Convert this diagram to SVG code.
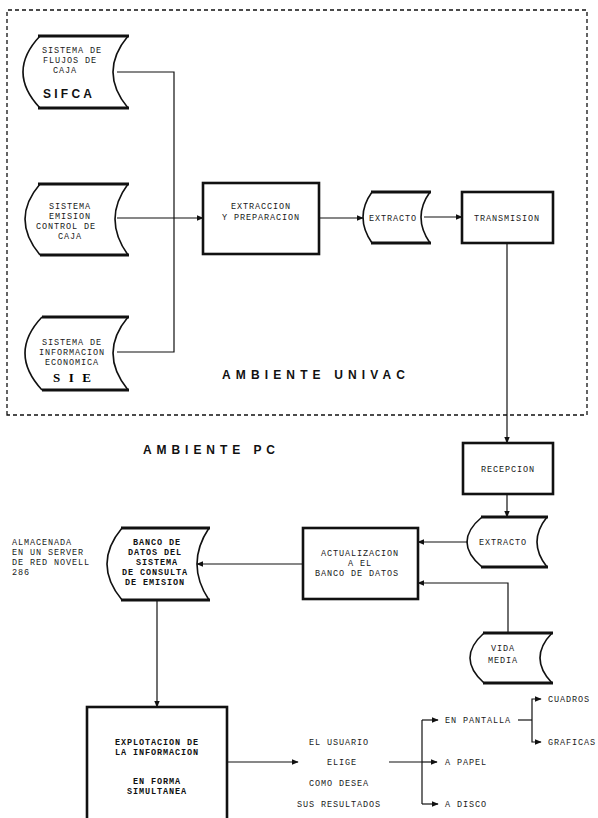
<svg xmlns="http://www.w3.org/2000/svg" width="598" height="818" viewBox="0 0 598 818">
<defs>
<marker id="ah" viewBox="0 0 10 10" refX="9" refY="5" markerWidth="7" markerHeight="7" markerUnits="userSpaceOnUse" orient="auto">
<path d="M0,1 L10,5 L0,9 z" fill="#111"/>
</marker>
<style>
.t{font-family:"Liberation Mono","DejaVu Sans Mono",monospace;font-size:8.5px;letter-spacing:0.9px;fill:#1a1a1a;text-anchor:middle}
.tl{font-family:"Liberation Mono","DejaVu Sans Mono",monospace;font-size:8.5px;letter-spacing:0.9px;fill:#1a1a1a}
.tb{font-family:"Liberation Mono","DejaVu Sans Mono",monospace;font-size:8.5px;letter-spacing:0.9px;fill:#111;font-weight:bold;text-anchor:middle}
.big{font-family:"Liberation Sans","DejaVu Sans",sans-serif;font-size:12px;font-weight:bold;fill:#111}
.curve{fill:none;stroke:#111;stroke-width:1.6}
.edge{stroke:#111;stroke-width:3.2}
.box{fill:#fff;stroke:#111;stroke-width:2.6}
.c{fill:none;stroke:#111;stroke-width:1.2}
.ca{fill:none;stroke:#111;stroke-width:1.2;marker-end:url(#ah)}
.dash{fill:none;stroke:#111;stroke-width:1.3;stroke-dasharray:4 3}
</style>
</defs>
<rect width="598" height="818" fill="#fff"/>

<g id="ambiente-univac">
<path class="dash" d="M7,415 V10 H587 V415 Z"/>
<text class="big" x="222" y="379" textLength="183" lengthAdjust="spacing">AMBIENTE UNIVAC</text>
</g>
<g id="ambiente-pc">
<text class="big" x="143" y="454" textLength="132" lengthAdjust="spacing">AMBIENTE PC</text>
</g>

<g id="connectors">
<path class="c" d="M117,72 H174 V352 H117"/>
<path class="ca" d="M117,218 H203"/>
<path class="ca" d="M319,218 H363"/>
<path class="ca" d="M424,217 H462"/>
<path class="ca" d="M507,243 V443"/>
<path class="ca" d="M507,494 V517"/>
<path class="ca" d="M468,542 H418"/>
<path class="ca" d="M508,633 V583 H418"/>
<path class="ca" d="M303,564 H197"/>
<path class="ca" d="M157,600 V707"/>
<path class="ca" d="M227,762 H298"/>
<path class="c" d="M389,762 H422"/>
<path class="ca" d="M422,762 H437"/>
<path class="c" d="M422,720 V804"/>
<path class="ca" d="M422,720 H438"/>
<path class="ca" d="M422,804 H438"/>
<path class="c" d="M518,720 H532"/>
<path class="ca" d="M532,720 V699 H541"/>
<path class="ca" d="M532,720 V742 H541"/>
</g>

<g id="sifca">
<path class="curve" d="M40,36 Q6,72 40,108 M128,36 Q98,72 128,108"/>
<path class="edge" d="M38,36 H129 M38,108 H129"/>
<text class="t" x="72" y="53">SISTEMA DE</text>
<text class="t" x="70" y="63">FLUJOS DE</text>
<text class="t" x="65" y="73">CAJA</text>
<text class="big" x="43" y="98" textLength="49" lengthAdjust="spacing">SIFCA</text>
</g>

<g id="emision">
<path class="curve" d="M40,184 Q10,219 40,255 M128,184 Q102,219 128,255"/>
<path class="edge" d="M38,184 H129 M40,255 H129"/>
<text class="t" x="70" y="209">SISTEMA</text>
<text class="t" x="70" y="219">EMISION</text>
<text class="t" x="66" y="229">CONTROL DE</text>
<text class="t" x="70" y="239">CAJA</text>
</g>

<g id="sie">
<path class="curve" d="M42,317 Q8,353 42,390 M128,317 Q98,353 128,390"/>
<path class="edge" d="M42,317 H129 M42,390 H129"/>
<text class="t" x="72" y="345">SISTEMA DE</text>
<text class="t" x="72" y="355">INFORMACION</text>
<text class="t" x="72" y="365">ECONOMICA</text>
<text x="53" y="382" style="font-family:'Liberation Serif','DejaVu Serif',serif;font-size:13px;font-weight:bold" textLength="38" lengthAdjust="spacing">SIE</text>
</g>

<g id="extraccion">
<rect class="box" x="203" y="183" width="116" height="71"/>
<text class="t" x="261" y="209">EXTRACCION</text>
<text class="t" x="261" y="220">Y PREPARACION</text>
</g>

<g id="extracto1">
<path class="curve" d="M372,192 Q354,217 372,243 M430,192 Q412,217 430,243"/>
<path class="edge" d="M371,192 H431 M371,243 H431"/>
<text class="t" x="393" y="221">EXTRACTO</text>
</g>

<g id="transmision">
<rect class="box" x="462" y="192" width="91" height="51"/>
<text class="t" x="507" y="221">TRANSMISION</text>
</g>

<g id="recepcion">
<rect class="box" x="463" y="443" width="90" height="51"/>
<text class="t" x="508" y="472">RECEPCION</text>
</g>

<g id="extracto2">
<path class="curve" d="M482,517 Q452,542 482,567 M547,517 Q527,542 547,567"/>
<path class="edge" d="M481,517 H548 M481,567 H548"/>
<text class="t" x="503" y="545">EXTRACTO</text>
</g>

<g id="actualizacion">
<rect class="box" x="303" y="528" width="115" height="71"/>
<text class="t" x="360" y="556">ACTUALIZACION</text>
<text class="t" x="360" y="566">A EL</text>
<text class="t" x="357" y="576">BANCO DE DATOS</text>
</g>

<g id="vida-media">
<path class="curve" d="M484,633 Q456,658 484,683 M552,633 Q528,658 552,683"/>
<path class="edge" d="M483,633 H553 M483,683 H553"/>
<text class="t" x="503" y="651">VIDA</text>
<text class="t" x="503" y="663">MEDIA</text>
</g>

<g id="banco-datos">
<path class="curve" d="M122,528 Q92,564 122,600 M209,528 Q185,564 209,600"/>
<path class="edge" d="M121,528 H210 M121,600 H210"/>
<text class="tb" x="157" y="545">BANCO DE</text>
<text class="tb" x="155" y="555">DATOS DEL</text>
<text class="tb" x="157" y="565">SISTEMA</text>
<text class="tb" x="155" y="575">DE CONSULTA</text>
<text class="tb" x="155" y="585">DE EMISION</text>
</g>

<g id="almacenada">
<text class="tl" x="12" y="545">ALMACENADA</text>
<text class="tl" x="12" y="555">EN UN SERVER</text>
<text class="tl" x="12" y="565">DE RED NOVELL</text>
<text class="tl" x="12" y="575">286</text>
</g>

<g id="explotacion">
<rect class="box" x="87" y="707" width="140" height="115"/>
<text class="tb" x="157" y="745">EXPLOTACION DE</text>
<text class="tb" x="157" y="755">LA INFORMACION</text>
<text class="tb" x="157" y="784">EN FORMA</text>
<text class="tb" x="157" y="794">SIMULTANEA</text>
</g>

<g id="usuario">
<text class="t" x="339" y="745">EL USUARIO</text>
<text class="t" x="342" y="765">ELIGE</text>
<text class="t" x="339" y="786">COMO DESEA</text>
<text class="t" x="339" y="807">SUS RESULTADOS</text>
</g>

<g id="salidas">
<text class="tl" x="445" y="723">EN PANTALLA</text>
<text class="tl" x="445" y="765">A PAPEL</text>
<text class="tl" x="445" y="807">A DISCO</text>
<text class="tl" x="548" y="702">CUADROS</text>
<text class="tl" x="548" y="745">GRAFICAS</text>
</g>
</svg>
